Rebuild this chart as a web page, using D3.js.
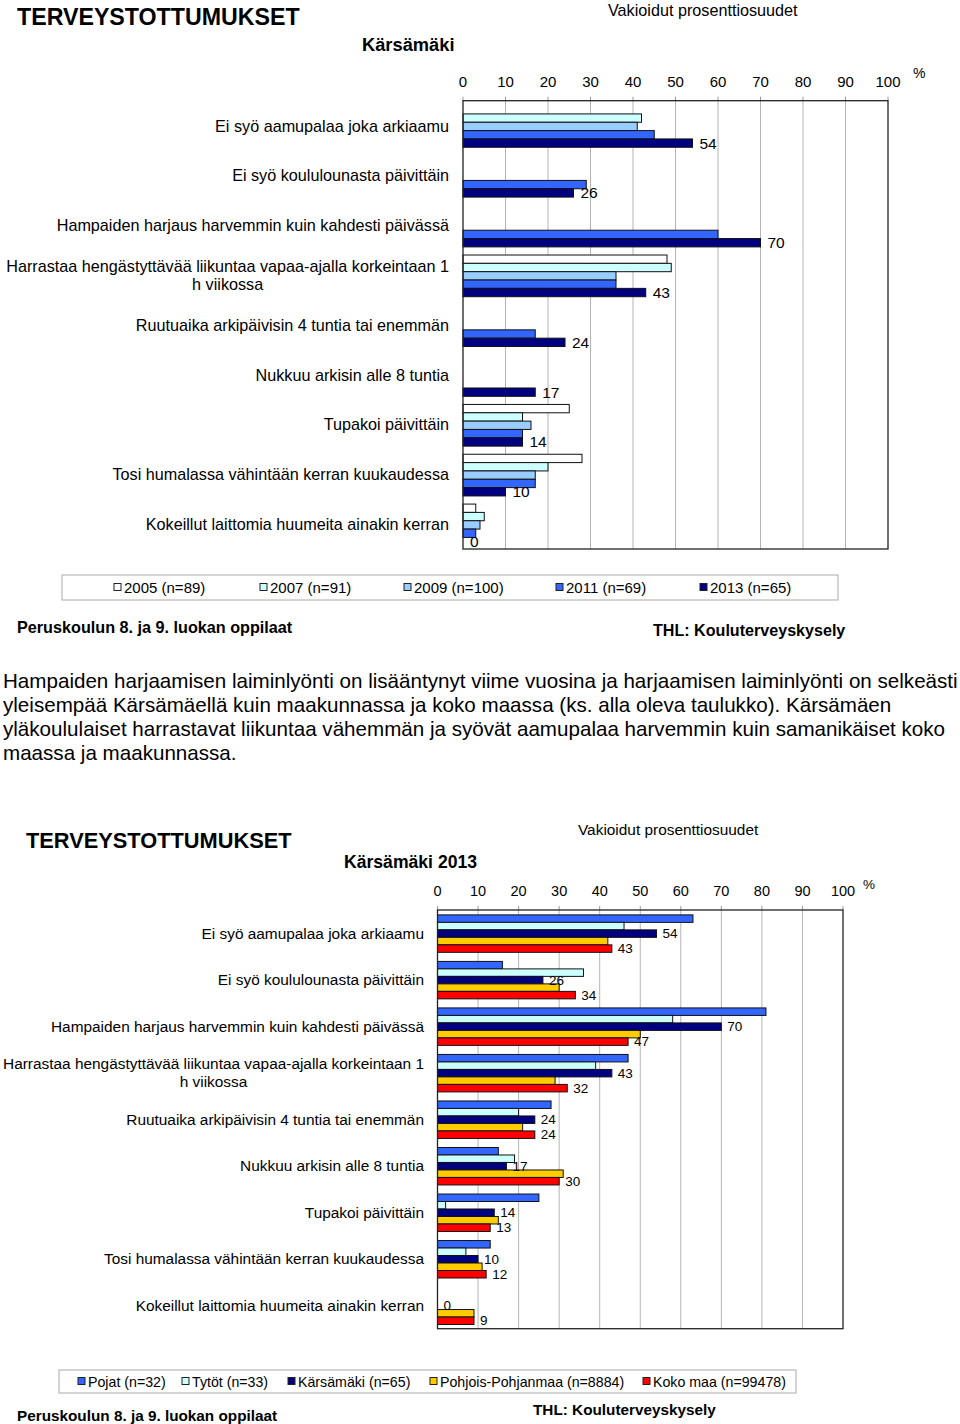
<!DOCTYPE html>
<html><head><meta charset="utf-8">
<script src="https://cdn.jsdelivr.net/npm/d3@7/dist/d3.min.js"></script>
<style>
body{margin:0;background:#fff;}
svg{display:block;font-family:"Liberation Sans",Arial,sans-serif;}
</style></head>
<body><svg id="c" width="960" height="1424"></svg>
<script>
// ---------- DATA ----------
const categories = [
  "Ei syö aamupalaa joka arkiaamu",
  "Ei syö koululounasta päivittäin",
  "Hampaiden harjaus harvemmin kuin kahdesti päivässä",
  "Harrastaa hengästyttävää liikuntaa vapaa-ajalla korkeintaan 1\nh viikossa",
  "Ruutuaika arkipäivisin 4 tuntia tai enemmän",
  "Nukkuu arkisin alle 8 tuntia",
  "Tupakoi päivittäin",
  "Tosi humalassa vähintään kerran kuukaudessa",
  "Kokeillut laittomia huumeita ainakin kerran"
];
const ticks = [0,10,20,30,40,50,60,70,80,90,100];

// Chart 1: years
const yearNames = ["2005 (n=89)","2007 (n=91)","2009 (n=100)","2011 (n=69)","2013 (n=65)"];
const y2005 = [null, null, null, 48, null, null, 25, 28, 3];
const y2007 = [42, null, null, 49, null, null, 14, 20, 5];
const y2009 = [41, null, null, 36, null, null, 16, 17, 4];
const y2011 = [45, 29, 60, 36, 17, null, 14, 17, 3];
const y2013 = [54, 26, 70, 43, 24, 17, 14, 10, 0];
const yearColors = ["#ffffff","#ccffff","#99ccff","#3366ff","#000080"];

// Chart 2: groups 2013
const groupNames = ["Pojat (n=32)","Tytöt (n=33)","Kärsämäki (n=65)","Pohjois-Pohjanmaa (n=8884)","Koko maa (n=99478)"];
const pojat     = [63, 16, 81, 47, 28, 15, 25, 13, null];
const tytot     = [46, 36, 58, 39, 20, 19, 2, 7, null];
const karsamaki = [54, 26, 70, 43, 24, 17, 14, 10, 0];
const pohjois   = [42, 30, 50, 29, 21, 31, 15, 11, 9];
const kokomaa   = [43, 34, 47, 32, 24, 30, 13, 12, 9];
const groupColors = ["#3366ff","#ccffff","#000080","#ffcc00","#ff0000"];

const paragraph = [
  "Hampaiden harjaamisen laiminlyönti on lisääntynyt viime vuosina ja harjaamisen laiminlyönti on selkeästi",
  "yleisempää Kärsämäellä kuin maakunnassa ja koko maassa (ks. alla oleva taulukko). Kärsämäen",
  "yläkoululaiset harrastavat liikuntaa vähemmän ja syövät aamupalaa harvemmin kuin samanikäiset koko",
  "maassa ja maakunnassa."
];

const svg = d3.select("#c");

function drawChart(o){
  const g = svg.append("g");
  const x = d3.scaleLinear().domain([0,100]).range([o.x0,o.x1]);
  const y = d3.scaleBand().domain(d3.range(categories.length)).range([o.top,o.bottom]).padding(0);
  const slot = y.bandwidth();
  const ys = d3.scaleBand().domain(d3.range(o.series.length)).range([slot*o.b0, slot*o.b1]).padding(0);

  g.selectAll(".grid").data(ticks.slice(1,-1)).enter().append("line")
    .attr("x1",d=>x(d)).attr("x2",d=>x(d)).attr("y1",o.top).attr("y2",o.bottom)
    .attr("stroke","#b4b4b4").attr("stroke-width",1);
  g.selectAll(".tk").data(ticks).enter().append("line")
    .attr("x1",d=>x(d)).attr("x2",d=>x(d)).attr("y1",o.top-4).attr("y2",o.top)
    .attr("stroke","#999").attr("stroke-width",1);
  g.selectAll(".tl").data(ticks).enter().append("text")
    .attr("x",d=>x(d)).attr("y",o.tickY).attr("text-anchor","middle").attr("dominant-baseline","central")
    .attr("font-size",o.tickFs).attr("fill","#000").text(d=>d);
  g.append("text").attr("x",o.pctX).attr("y",o.pctY).attr("font-size",o.tickFs-1).attr("dominant-baseline","central").text("%");

  o.series.forEach((vals,si)=>{
    g.selectAll(".b"+si).data(vals.map((v,i)=>({v,i})).filter(d=>d.v!==null && d.v>0)).enter().append("rect")
      .attr("x",x(0)).attr("y",d=>y(d.i)+ys(si)).attr("width",d=>x(d.v)-x(0)).attr("height",ys.bandwidth())
      .attr("fill",o.colors[si]).attr("stroke","#111").attr("stroke-width",1);
  });
  o.labelSeries.forEach(si=>{
    g.selectAll(".l"+si).data(o.series[si].map((v,i)=>({v,i})).filter(d=>d.v!==null)).enter().append("text")
      .attr("x",d=>x(d.v)+o.labDx).attr("y",d=>y(d.i)+ys(si)+ys.bandwidth()/2)
      .attr("dominant-baseline","central").attr("font-size",o.labFs).text(d=>d.v);
  });

  g.append("rect").attr("x",o.x0).attr("y",o.top).attr("width",o.x1-o.x0).attr("height",o.bottom-o.top)
    .attr("fill","none").attr("stroke","#222").attr("stroke-width",1.3);

  categories.forEach((c,i)=>{
    const lines = c.split("\n");
    const cy = y(i)+slot/2;
    if(lines.length===1){
      g.append("text").attr("x",o.labRight).attr("y",cy).attr("text-anchor","end")
        .attr("dominant-baseline","central").attr("font-size",o.catFs).text(c);
    } else {
      const t = g.append("text").attr("font-size",o.catFs).attr("text-anchor","middle");
      const tmp = g.append("text").attr("font-size",o.catFs).text(lines[0]);
      const w = tmp.node().getComputedTextLength(); tmp.remove();
      const cx = o.labRight - w/2;
      lines.forEach((ln,k)=>{
        t.append("tspan").attr("x",cx).attr("y",cy+(k-(lines.length-1)/2)*o.catLh)
          .attr("dominant-baseline","central").text(ln);
      });
    }
  });

  const lg = o.legend;
  g.append("rect").attr("x",lg.x).attr("y",lg.y).attr("width",lg.w).attr("height",lg.h)
    .attr("fill","#fff").attr("stroke","#aaa").attr("stroke-width",1);
  o.names.forEach((n,k)=>{
    const sx = lg.items[k];
    g.append("rect").attr("x",sx).attr("y",lg.y+lg.h/2-4).attr("width",7).attr("height",7)
      .attr("fill",o.colors[k]).attr("stroke","#222").attr("stroke-width",1);
    g.append("text").attr("x",sx+10).attr("y",lg.y+lg.h/2).attr("dominant-baseline","central")
      .attr("font-size",lg.fs).text(n);
  });

  g.append("text").attr("x",o.title.x).attr("y",o.title.y).attr("dominant-baseline","central")
    .attr("font-size",o.title.fs).attr("font-weight","bold").text("TERVEYSTOTTUMUKSET");
  g.append("text").attr("x",o.vak.x).attr("y",o.vak.y).attr("dominant-baseline","central")
    .attr("font-size",o.vak.fs).text("Vakioidut prosenttiosuudet");
  g.append("text").attr("x",o.sub.x).attr("y",o.sub.y).attr("dominant-baseline","central")
    .attr("font-size",o.sub.fs).attr("font-weight","bold").text(o.sub.text);
  g.append("text").attr("x",o.foot1.x).attr("y",o.foot1.y).attr("dominant-baseline","central")
    .attr("font-size",o.foot1.fs).attr("font-weight","bold").text("Peruskoulun 8. ja 9. luokan oppilaat");
  g.append("text").attr("x",o.foot2.x).attr("y",o.foot2.y).attr("dominant-baseline","central")
    .attr("font-size",o.foot2.fs).attr("font-weight","bold").text("THL: Kouluterveyskysely");
}

drawChart({
  x0:463, x1:888, top:100.7, bottom:549, b0:0.098, b1:0.935,
  series:[y2005,y2007,y2009,y2011,y2013], colors:yearColors, names:yearNames, labelSeries:[4],
  tickY:81, tickFs:15, pctX:913, pctY:73, labDx:7, labFs:15.5,
  labRight:449, catFs:16.2, catLh:18,
  legend:{x:62,y:575,w:776,h:25,fs:15,items:[114,260,404,556,700]},
  title:{x:17,y:17,fs:23.2}, vak:{x:608,y:10,fs:16.2},
  sub:{x:362,y:44,fs:18.3,text:"Kärsämäki"},
  foot1:{x:17,y:627,fs:16.2}, foot2:{x:653,y:630,fs:16.1}
});

drawChart({
  x0:437.5, x1:843, top:910, bottom:1328.7, b0:0.105, b1:0.91,
  series:[pojat,tytot,karsamaki,pohjois,kokomaa], colors:groupColors, names:groupNames, labelSeries:[2,4],
  tickY:891, tickFs:14.5, pctX:863, pctY:884, labDx:6, labFs:13.5,
  labRight:424, catFs:15.4, catLh:18,
  legend:{x:59,y:1370,w:737,h:23,fs:14.2,items:[78,182,288,430,643]},
  title:{x:26,y:840,fs:21.8}, vak:{x:578,y:829,fs:15.4},
  sub:{x:344,y:862,fs:17.6,text:"Kärsämäki 2013"},
  foot1:{x:17,y:1415,fs:15.3}, foot2:{x:533,y:1409,fs:15.3}
});

svg.append("g").selectAll("text").data(paragraph).enter().append("text")
  .attr("x",3).attr("y",(d,i)=>680+i*24).attr("dominant-baseline","central")
  .attr("font-size",20.6).text(d=>d);
</script></body></html>
